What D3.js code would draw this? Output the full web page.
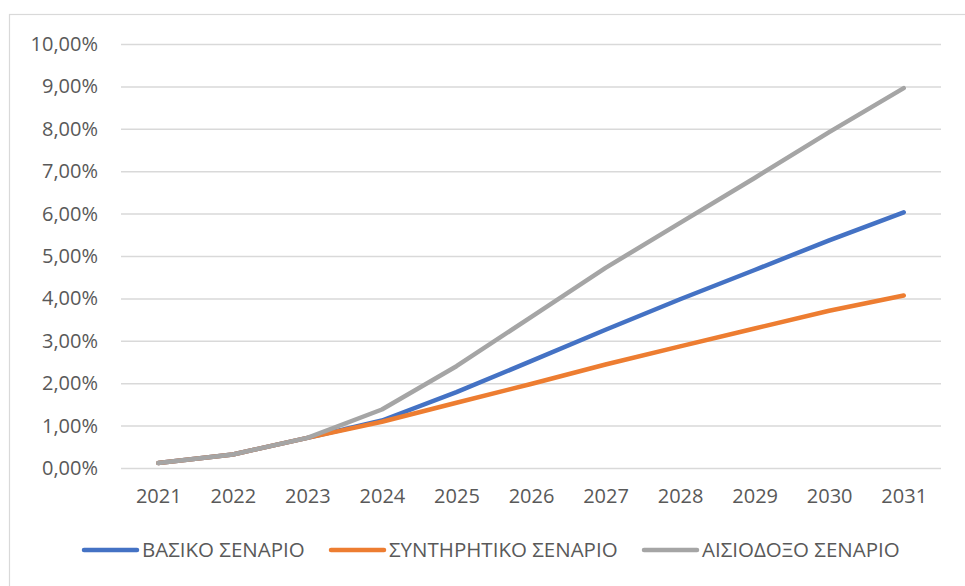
<!DOCTYPE html>
<html>
<head>
<meta charset="utf-8">
<script src="https://cdn.jsdelivr.net/npm/d3@7"></script>
<style>
html,body{margin:0;padding:0;background:#fff;}
svg{display:block;}
text{font-family:"Open Sans","Liberation Sans",sans-serif;fill:#595959;}
</style>
</head>
<body>
<svg id="chart" width="965" height="586"></svg>
<script>
const years = ["2021","2022","2023","2024","2025","2026","2027","2028","2029","2030","2031"];
const basic        = [0.12,0.32,0.71,1.12,1.79,2.52,3.26,3.98,4.67,5.37,6.03];
const conservative = [0.12,0.32,0.71,1.09,1.54,1.98,2.44,2.87,3.29,3.71,4.07];
const optimistic   = [0.12,0.32,0.71,1.38,2.40,3.56,4.72,5.78,6.84,7.92,8.96];
const yTicks = [0,1,2,3,4,5,6,7,8,9,10];
const seriesNames = ["ΒΑΣΙΚΟ ΣΕΝΑΡΙΟ","ΣΥΝΤΗΡΗΤΙΚΟ ΣΕΝΑΡΙΟ","ΑΙΣΙΟΔΟΞΟ ΣΕΝΑΡΙΟ"];
const seriesColors = ["#4472C4","#ED7D31","#A5A5A5"];

const series = [basic, conservative, optimistic].map((v,i)=>({name:seriesNames[i], color:seriesColors[i], values:v}));

const svg = d3.select("#chart");
const plot = {left:121, right:941, top:44, bottom:468};

// outer border
svg.append("rect").attr("x",9.5).attr("y",14.5).attr("width",1000).attr("height",1000)
  .attr("fill","none").attr("stroke","#d9d9d9").attr("stroke-width",1.2);

const x = d3.scalePoint().domain(years).range([plot.left, plot.right]).padding(0.5);
const y = d3.scaleLinear().domain([0,10]).range([plot.bottom, plot.top]);

const fmt = v => d3.format(".2f")(v).replace(".", ",") + "%";

// gridlines + y labels
const yAxis = d3.axisLeft(y).tickValues(yTicks).tickFormat(fmt)
  .tickSize(-(plot.right-plot.left)).tickPadding(23);
const gy = svg.append("g").attr("transform",`translate(${plot.left},0)`).call(yAxis);
gy.select(".domain").remove();
gy.selectAll(".tick line").attr("stroke","#d9d9d9").attr("stroke-width",1.5);
gy.selectAll(".tick text").attr("font-size",20).attr("fill","#595959")
  .style("font-family","'Open Sans','Liberation Sans',sans-serif");

// x axis labels
const xAxis = d3.axisBottom(x).tickSize(0).tickPadding(21);
const gx = svg.append("g").attr("transform",`translate(0,${plot.bottom})`).call(xAxis);
gx.select(".domain").remove();
gx.selectAll(".tick text").attr("font-size",20).attr("fill","#595959")
  .style("font-family","'Open Sans','Liberation Sans',sans-serif");

// lines
const line = d3.line().x((d,i)=>x(years[i])).y(d=>y(d));
svg.append("g").selectAll("path").data(series).join("path")
  .attr("d", d=>line(d.values))
  .attr("fill","none").attr("stroke",d=>d.color).attr("stroke-width",4.5)
  .attr("stroke-linecap","round").attr("stroke-linejoin","round");

// legend
const legendItems = [{lx:84, tx:142},{lx:331, tx:389},{lx:644, tx:702}];
const lg = svg.append("g").attr("transform","translate(0,550)");
series.forEach((s,i)=>{
  const it = legendItems[i];
  lg.append("line").attr("x1",it.lx).attr("x2",it.lx+53).attr("y1",0).attr("y2",0)
    .attr("stroke",s.color).attr("stroke-width",4.5).attr("stroke-linecap","round");
  lg.append("text").attr("x",it.tx).attr("y",0).attr("dy","0.35em")
    .attr("font-size",20.5).text(s.name);
});
</script>
</body>
</html>
